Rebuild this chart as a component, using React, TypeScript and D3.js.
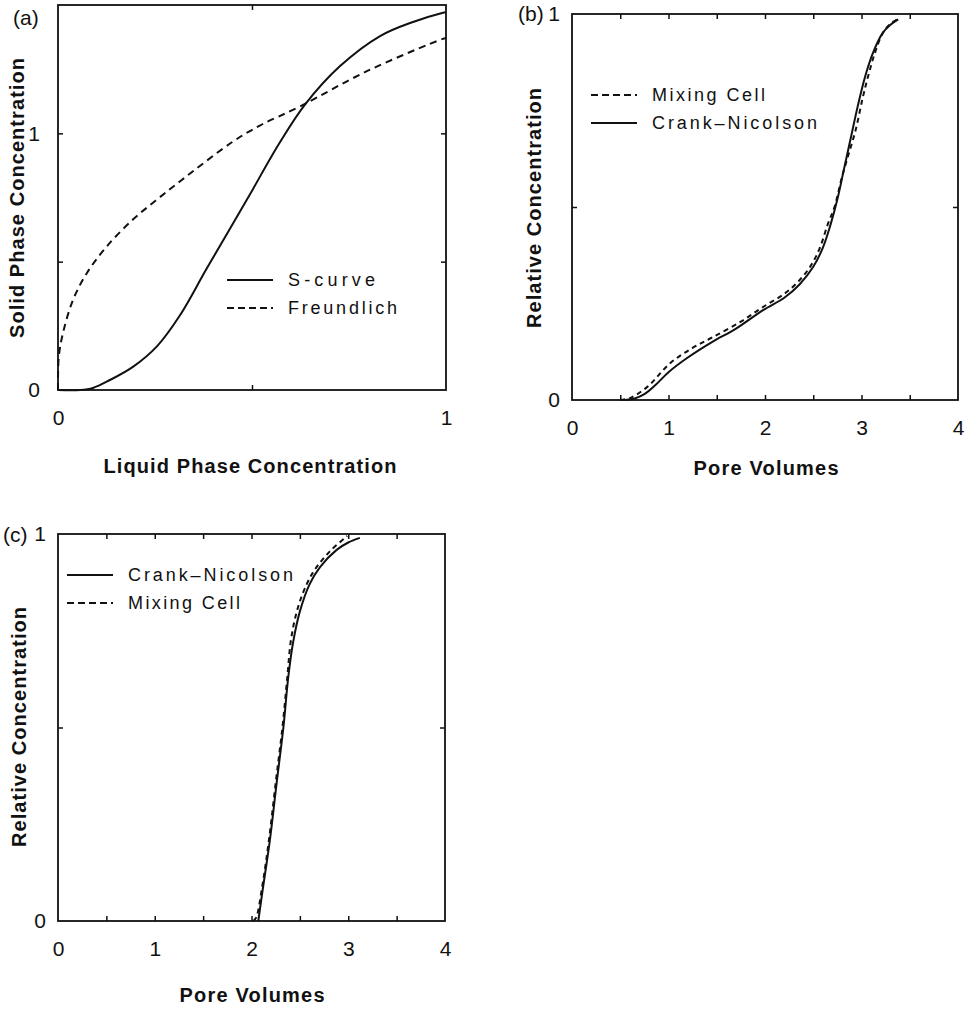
import React, { useEffect, useRef } from 'react';
import * as d3 from 'd3';

// (a) isotherms: liquid vs solid phase concentration
const sCurveX = [0, 0.057, 0.09, 0.134, 0.193, 0.255, 0.314, 0.384, 0.487, 0.572, 0.637, 0.727, 0.83, 0.915, 0.99, 1.0];
const sCurveY = [0, 0, 0.008, 0.039, 0.09, 0.17, 0.29, 0.475, 0.742, 0.965, 1.113, 1.262, 1.379, 1.434, 1.469, 1.472];
const freundX = [0, 0.002, 0.013, 0.039, 0.075, 0.126, 0.193, 0.255, 0.314, 0.451, 0.52, 0.624, 0.796, 0.99, 1.0];
const freundY = [0, 0.129, 0.223, 0.352, 0.457, 0.56, 0.664, 0.742, 0.8125, 0.968, 1.03, 1.105, 1.242, 1.367, 1.371];

// (b) breakthrough curves
const bCrankX = [0.55, 0.65, 0.75, 0.87, 1.0, 1.2, 1.45, 1.7, 1.98, 2.2, 2.36, 2.5, 2.6, 2.68, 2.75, 2.82, 2.89, 2.96, 3.04, 3.12, 3.22, 3.3, 3.38];
const bCrankY = [0, 0.004, 0.015, 0.04, 0.072, 0.11, 0.15, 0.185, 0.233, 0.265, 0.3, 0.345, 0.395, 0.455, 0.52, 0.6, 0.68, 0.76, 0.84, 0.9, 0.951, 0.972, 0.986];
const bMixX = [0.5, 0.6, 0.78, 1.02, 1.25, 1.46, 1.75, 1.98, 2.2, 2.36, 2.48, 2.57, 2.65, 2.72, 2.8, 2.87, 2.94, 3.01, 3.07, 3.14, 3.22, 3.3, 3.4];
const bMixY = [0, 0.005, 0.034, 0.096, 0.135, 0.163, 0.203, 0.241, 0.275, 0.311, 0.35, 0.395, 0.455, 0.5, 0.58, 0.64, 0.7, 0.78, 0.84, 0.9, 0.95, 0.975, 0.99];

// (c) breakthrough curves
const cCrankX = [2.07, 2.12, 2.19, 2.26, 2.33, 2.38, 2.43, 2.5, 2.6, 2.71, 2.88, 3.0, 3.12];
const cCrankY = [0, 0.088, 0.209, 0.357, 0.501, 0.63, 0.72, 0.8, 0.87, 0.915, 0.959, 0.978, 0.99];
const cMixX = [2.02, 2.05, 2.11, 2.18, 2.25, 2.32, 2.37, 2.41, 2.48, 2.57, 2.66, 2.81, 2.99];
const cMixY = [0, 0.01, 0.088, 0.209, 0.357, 0.501, 0.63, 0.73, 0.81, 0.87, 0.91, 0.955, 0.995];

const zip = (xs: number[], ys: number[]) => xs.map((x, i) => [x, ys[i]] as [number, number]);

interface Series { name: string; pts: [number, number][]; dash: string | null; }

const panels = [
  {
    tag: '(a)', tagX: 13, tagY: 25, tagInline: false,
    left: 58, right: 446, top: 5, bottom: 390,
    xDomain: [0, 1], yDomain: [0, 1.5],
    xMinor: [0.5], yMinor: [0.5, 1],
    xLabels: [0, 1], yLabels: [0, 1],
    xTitle: 'Liquid Phase Concentration', xTitleX: 250, xTitleY: 473, xTitleLen: 293,
    yTitle: 'Solid Phase Concentration', yTitleX: 24, yTitleY: 198, yTitleLen: 280,
    series: [
      { name: 'S-curve', pts: zip(sCurveX, sCurveY), dash: null },
      { name: 'Freundlich', pts: zip(freundX, freundY), dash: '7,5' },
    ] as Series[],
    legendX: 227, legendY: 280, legendLens: [87, 109],
  },
  {
    tag: '(b)', tagX: 518, tagY: 21, tagInline: true,
    left: 572, right: 958, top: 14, bottom: 400,
    xDomain: [0, 4], yDomain: [0, 1],
    xMinor: [0.5, 1, 1.5, 2, 2.5, 3, 3.5], yMinor: [0.5],
    xLabels: [0, 1, 2, 3, 4], yLabels: [0, 1],
    xTitle: 'Pore Volumes', xTitleX: 766, xTitleY: 475, xTitleLen: 145,
    yTitle: 'Relative Concentration', yTitleX: 541, yTitleY: 208, yTitleLen: 240,
    series: [
      { name: 'Mixing Cell', pts: zip(bMixX, bMixY), dash: '5,4' },
      { name: 'Crank\u2013Nicolson', pts: zip(bCrankX, bCrankY), dash: null },
    ] as Series[],
    legendX: 591, legendY: 95, legendLens: [113, 165],
  },
  {
    tag: '(c)', tagX: 3, tagY: 542, tagInline: true,
    left: 58, right: 445, top: 534, bottom: 921,
    xDomain: [0, 4], yDomain: [0, 1],
    xMinor: [0.5, 1, 1.5, 2, 2.5, 3, 3.5], yMinor: [0.5],
    xLabels: [0, 1, 2, 3, 4], yLabels: [0, 1],
    xTitle: 'Pore Volumes', xTitleX: 252, xTitleY: 1002, xTitleLen: 145,
    yTitle: 'Relative Concentration', yTitleX: 26, yTitleY: 727, yTitleLen: 240,
    series: [
      { name: 'Crank\u2013Nicolson', pts: zip(cCrankX, cCrankY), dash: null },
      { name: 'Mixing Cell', pts: zip(cMixX, cMixY), dash: '5,4' },
    ] as Series[],
    legendX: 67, legendY: 575, legendLens: [165, 112],
  },
];

const App: React.FC = () => {
  const ref = useRef<SVGSVGElement | null>(null);

  useEffect(() => {
    const svg = d3.select(ref.current);
    svg.selectAll('*').remove();
    svg.append('rect').attr('width', 969).attr('height', 1009).attr('fill', 'white');

    panels.forEach(p => {
      const g = svg.append('g');
      const x = d3.scaleLinear().domain(p.xDomain).range([p.left, p.right]);
      const y = d3.scaleLinear().domain(p.yDomain).range([p.bottom, p.top]);

      // frame
      g.append('rect')
        .attr('x', p.left).attr('y', p.top)
        .attr('width', p.right - p.left).attr('height', p.bottom - p.top)
        .attr('fill', 'none').attr('stroke', '#111').attr('stroke-width', 1.8);

      // inward minor ticks on all four sides
      const tickAxes: [any, string][] = [
        [d3.axisBottom(x).tickValues(p.xMinor), `translate(0,${p.bottom})`],
        [d3.axisTop(x).tickValues(p.xMinor), `translate(0,${p.top})`],
        [d3.axisLeft(y).tickValues(p.yMinor), `translate(${p.left},0)`],
        [d3.axisRight(y).tickValues(p.yMinor), `translate(${p.right},0)`],
      ];
      tickAxes.forEach(([ax, tr]) => {
        const a = g.append('g').attr('transform', tr)
          .call(ax.tickSizeInner(-5).tickSizeOuter(0).tickFormat(() => ''));
        a.select('.domain').remove();
        a.selectAll('line').attr('stroke', '#111').attr('stroke-width', 1.5);
      });

      // tick labels
      const xl = g.append('g').attr('transform', `translate(0,${p.bottom})`)
        .call(d3.axisBottom(x).tickValues(p.xLabels).tickSize(0).tickPadding(20).tickFormat(d3.format('d')));
      const yl = g.append('g').attr('transform', `translate(${p.left},0)`)
        .call(d3.axisLeft(y).tickValues(p.yLabels).tickSize(0).tickPadding(p.tagInline ? 12 : 16).tickFormat(d3.format('d')));
      [xl, yl].forEach(a => {
        a.select('.domain').remove();
        a.selectAll('text')
          .attr('fill', '#111')
          .style('font-family', '"Liberation Sans", Arial, sans-serif')
          .style('font-size', '21px');
      });
      if (!p.tagInline) yl.selectAll('text').attr('dx', -2);

      g.append('text')
        .attr('x', p.tagX).attr('y', p.tagY)
        .attr('fill', '#111')
        .style('font-family', '"Liberation Sans", Arial, sans-serif')
        .style('font-size', '21px')
        .text(p.tag);

      // axis titles
      g.append('text')
        .attr('x', p.xTitleX).attr('y', p.xTitleY)
        .attr('text-anchor', 'middle')
        .attr('textLength', p.xTitleLen).attr('lengthAdjust', 'spacing')
        .attr('fill', '#111')
        .style('font-family', '"Liberation Sans", Arial, sans-serif')
        .style('font-size', '20px').style('font-weight', 'bold')
        .text(p.xTitle);

      g.append('text')
        .attr('transform', `translate(${p.yTitleX},${p.yTitleY}) rotate(-90)`)
        .attr('text-anchor', 'middle')
        .attr('textLength', p.yTitleLen).attr('lengthAdjust', 'spacing')
        .attr('fill', '#111')
        .style('font-family', '"Liberation Sans", Arial, sans-serif')
        .style('font-size', '20px').style('font-weight', 'bold')
        .text(p.yTitle);

      // curves
      const line = d3.line<[number, number]>()
        .x(d => x(d[0]))
        .y(d => y(d[1]))
        .curve(d3.curveCatmullRom.alpha(0.5));

      p.series.forEach((s, i) => {
        g.append('path')
          .attr('d', line(s.pts))
          .attr('fill', 'none')
          .attr('stroke', '#111')
          .attr('stroke-width', 2)
          .attr('stroke-dasharray', s.dash ?? null);

        // legend entry
        const ly = p.legendY + i * 28;
        g.append('line')
          .attr('x1', p.legendX).attr('x2', p.legendX + 46)
          .attr('y1', ly).attr('y2', ly)
          .attr('stroke', '#111').attr('stroke-width', 1.8)
          .attr('stroke-dasharray', s.dash ? '7,4' : null);
        g.append('text')
          .attr('x', p.legendX + 61).attr('y', ly + 6)
          .attr('textLength', p.legendLens[i]).attr('lengthAdjust', 'spacing')
          .attr('fill', '#111')
          .style('font-family', '"Liberation Sans", Arial, sans-serif')
          .style('font-size', '18px')
          .text(s.name);
      });
    });
  }, []);

  return (
    <svg
      ref={ref}
      width={969}
      height={1009}
      style={{ position: 'absolute', left: 0, top: 0 }}
    />
  );
};

export default App;
